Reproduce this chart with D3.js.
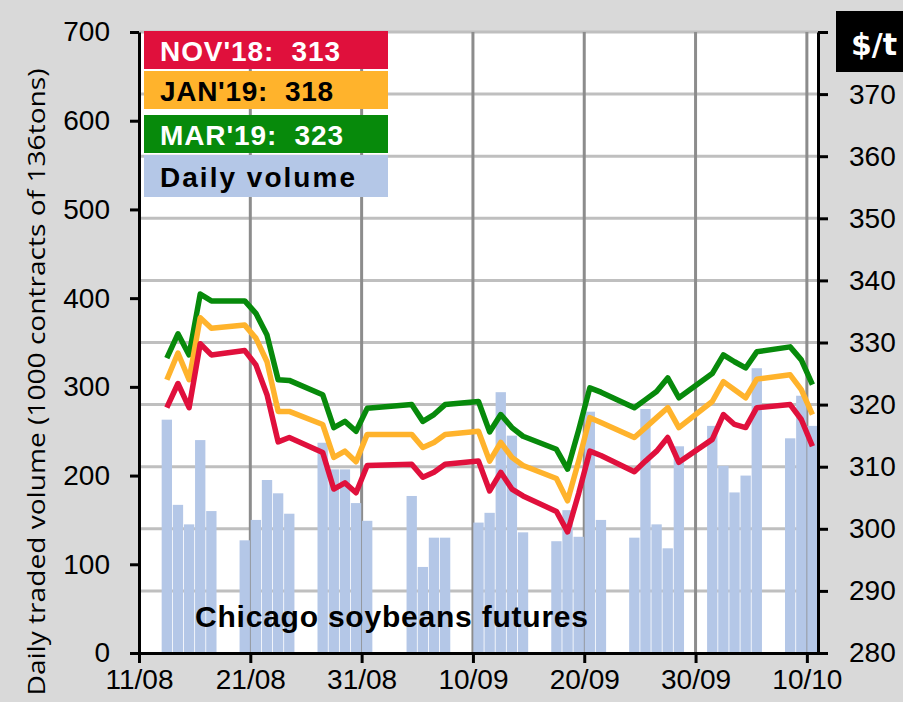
<!DOCTYPE html>
<html>
<head>
<meta charset="utf-8">
<script src="https://cdn.jsdelivr.net/npm/d3@7"></script>
<style>
  body { margin: 0; background: #d9d9d9; }
  svg { display: block; font-family: "Liberation Sans", Arial, sans-serif; }
</style>
</head>
<body>
<div id="chart"></div>
<script>
// trading days (2018)
const days = [
  "2018-08-13", "2018-08-14", "2018-08-15", "2018-08-16", "2018-08-17",
  "2018-08-20", "2018-08-21", "2018-08-22", "2018-08-23", "2018-08-24",
  "2018-08-27", "2018-08-28", "2018-08-29", "2018-08-30", "2018-08-31",
  "2018-09-04", "2018-09-05", "2018-09-06", "2018-09-07",
  "2018-09-10", "2018-09-11", "2018-09-12", "2018-09-13", "2018-09-14",
  "2018-09-17", "2018-09-18", "2018-09-19", "2018-09-20", "2018-09-21",
  "2018-09-24", "2018-09-25", "2018-09-26", "2018-09-27", "2018-09-28",
  "2018-10-01", "2018-10-02", "2018-10-03", "2018-10-04", "2018-10-05",
  "2018-10-08", "2018-10-09", "2018-10-10"
];

// daily volume, 1000 contracts
const volume = [
  263, 167, 145, 240, 160,
  127, 150, 195, 180, 157,
  237, 207, 207, 169, 149,
  177, 97, 130, 130,
  147, 158, 294, 245, 136,
  126, 161, 131, 272, 150,
  130, 275, 145, 118, 233,
  256, 211, 181, 200, 321,
  242, 290, 256
];

// futures prices, $/t
const nov18 = [
  319.5, 323.4, 319.5, 329.8, 328.0,
  328.7, 326.4, 321.6, 314.0, 314.7,
  312.3, 306.4, 307.4, 305.8, 310.2,
  310.4, 308.3, 309.1, 310.4,
  310.9, 306.1, 309.1, 306.4, 305.3,
  302.8, 299.5, 305.7, 312.5, 311.8,
  309.2, 310.9, 312.5, 314.7, 310.7,
  314.4, 318.4, 316.8, 316.3, 319.5,
  320.0, 317.6, 313.3
];
const jan19 = [
  324.0, 328.3, 324.0, 334.0, 332.3,
  332.8, 330.7, 326.9, 318.9, 318.9,
  316.8, 311.5, 312.5, 310.8, 315.2,
  315.2, 313.1, 313.9, 315.2,
  315.7, 310.9, 313.9, 311.5, 310.2,
  308.1, 304.5, 310.9, 317.9, 317.1,
  314.7, 316.3, 317.9, 319.5, 316.3,
  320.5, 323.7, 322.4, 321.1, 324.1,
  324.8, 322.4, 318.4
];
const mar19 = [
  327.5, 331.4, 328.0, 337.8, 336.7,
  336.7, 334.7, 331.2, 324.0, 323.9,
  321.6, 316.3, 317.3, 315.7, 319.4,
  320.0, 317.3, 318.4, 320.0,
  320.5, 315.6, 318.4, 316.3, 314.9,
  312.8, 309.6, 315.9, 322.7, 322.0,
  319.5, 320.8, 322.1, 324.3, 321.1,
  325.0, 328.0, 326.9, 325.9, 328.5,
  329.3, 327.2, 323.2
];

const tickDays = ["2018-08-11", "2018-08-21", "2018-08-31", "2018-09-10", "2018-09-20", "2018-09-30", "2018-10-10"];
const tickLabels = ["11/08", "21/08", "31/08", "10/09", "20/09", "30/09", "10/10"];
const volTicks = [0, 100, 200, 300, 400, 500, 600, 700];
const priceTicks = [280, 290, 300, 310, 320, 330, 340, 350, 360, 370, 380];

const legendLabels = ["NOV'18:  313", "JAN'19:  318", "MAR'19:  323", "Daily volume"];

const W = 903, H = 702;
const margin = { top: 32, right: 85, bottom: 49, left: 139 };

const parse = d3.utcParse("%Y-%m-%d");
const dates = days.map(parse);

const svg = d3.select("#chart").append("svg")
  .attr("width", W).attr("height", H);

const x = d3.scaleUtc()
  .domain([parse("2018-08-11"), parse("2018-10-11")])
  .range([margin.left, W - margin.right]);

const yVol = d3.scaleLinear().domain([0, 700]).range([H - margin.bottom, margin.top]);
const yPrice = d3.scaleLinear().domain([280, 380]).range([H - margin.bottom, margin.top]);

// plot background
svg.append("rect")
  .attr("x", margin.left).attr("y", margin.top)
  .attr("width", W - margin.left - margin.right)
  .attr("height", H - margin.top - margin.bottom)
  .attr("fill", "#fff");

// grid
svg.append("g").selectAll("line").data(priceTicks.slice(1)).join("line")
  .attr("x1", margin.left).attr("x2", W - margin.right)
  .attr("y1", d => yPrice(d)).attr("y2", d => yPrice(d))
  .attr("stroke", "#bfbfbf").attr("stroke-width", 3);

svg.append("g").selectAll("line").data(tickDays.slice(1).map(parse)).join("line")
  .attr("x1", d => x(d)).attr("x2", d => x(d))
  .attr("y1", margin.top).attr("y2", H - margin.bottom)
  .attr("stroke", "#8c8c8c").attr("stroke-width", 3);

// volume bars
svg.append("g").selectAll("rect").data(dates).join("rect")
  .attr("x", d => x(d) + 0.4)
  .attr("width", d => x(d3.utcDay.offset(d, 1)) - x(d) - 0.8)
  .attr("y", (d, i) => yVol(volume[i]))
  .attr("height", (d, i) => yVol(0) - yVol(volume[i]))
  .attr("fill", "#b4c7e7");

svg.append("text")
  .attr("x", 195).attr("y", 627)
  .attr("font-size", 30).attr("font-weight", "bold")
  .attr("textLength", 393)
  .text("Chicago soybeans futures");

// price lines
const line = d3.line()
  .x((d, i) => x(d3.utcHour.offset(dates[i], 12)))
  .y(d => yPrice(d));

const series = [
  { values: mar19, color: "#078a0b" },
  { values: jan19, color: "#ffb32c" },
  { values: nov18, color: "#e0103c" }
];

series.forEach(s => {
  svg.append("path")
    .datum(s.values)
    .attr("fill", "none")
    .attr("stroke", s.color)
    .attr("stroke-width", 5.5)
    .attr("stroke-linejoin", "round")
    .attr("d", line);
});

// axes
const styleAxis = g => {
  g.select(".domain").attr("stroke", "#000").attr("stroke-width", 3);
  g.selectAll(".tick line").attr("stroke", "#000").attr("stroke-width", 3);
  g.selectAll(".tick text").attr("fill", "#000").attr("font-size", 28)
    .attr("font-family", "Liberation Sans, Arial, sans-serif");
};

svg.append("g")
  .attr("transform", `translate(${margin.left},0)`)
  .call(d3.axisLeft(yVol).tickValues(volTicks).tickSize(9).tickSizeOuter(0).tickPadding(20))
  .call(styleAxis);

// top label (380) sits under the unit box
svg.append("g")
  .attr("transform", `translate(${W - margin.right},0)`)
  .call(d3.axisRight(yPrice).tickValues(priceTicks).tickSize(10).tickSizeOuter(0).tickPadding(21)
    .tickFormat(d => d === 380 ? "" : d))
  .call(styleAxis);

svg.append("g")
  .attr("transform", `translate(0,${H - margin.bottom})`)
  .call(d3.axisBottom(x).tickValues(tickDays.map(parse))
    .tickFormat((d, i) => tickLabels[i]).tickSize(10).tickSizeOuter(0).tickPadding(6))
  .call(styleAxis);

svg.append("text")
  .attr("transform", "translate(45,382) rotate(-90)")
  .attr("text-anchor", "middle")
  .attr("font-size", 24)
  .attr("font-family", "Liberation Sans Narrow, Open Sans, sans-serif")
  .attr("textLength", 627)
  .attr("lengthAdjust", "spacingAndGlyphs")
  .text("Daily traded volume (1000 contracts of 136tons)");

// legend
const legendBoxes = [
  { y: 31, h: 38, fill: "#e0103c", text: "#fff", len: 180 },
  { y: 71, h: 38, fill: "#ffb32c", text: "#000", len: 173 },
  { y: 115, h: 38, fill: "#078a0b", text: "#fff", len: 183 },
  { y: 155, h: 42, fill: "#b4c7e7", text: "#000", len: 195 }
];

const leg = svg.append("g");
legendBoxes.forEach((b, i) => {
  leg.append("rect")
    .attr("x", 144).attr("y", b.y)
    .attr("width", 244).attr("height", b.h)
    .attr("fill", b.fill);
  leg.append("text")
    .attr("x", 160).attr("y", b.y + (i === 3 ? 31.5 : 29.5))
    .attr("font-size", 28).attr("font-weight", "bold")
    .attr("fill", b.text)
    .attr("textLength", b.len)
    .style("white-space", "pre")
    .text(legendLabels[i]);
});

// unit label
svg.append("rect")
  .attr("x", 836).attr("y", 11)
  .attr("width", 67).attr("height", 61)
  .attr("fill", "#000");
svg.append("text")
  .attr("x", 851).attr("y", 55)
  .attr("font-size", 30).attr("font-weight", "bold")
  .attr("font-family", "DejaVu Sans, sans-serif")
  .attr("fill", "#fff")
  .text("$/t");
</script>
</body>
</html>
